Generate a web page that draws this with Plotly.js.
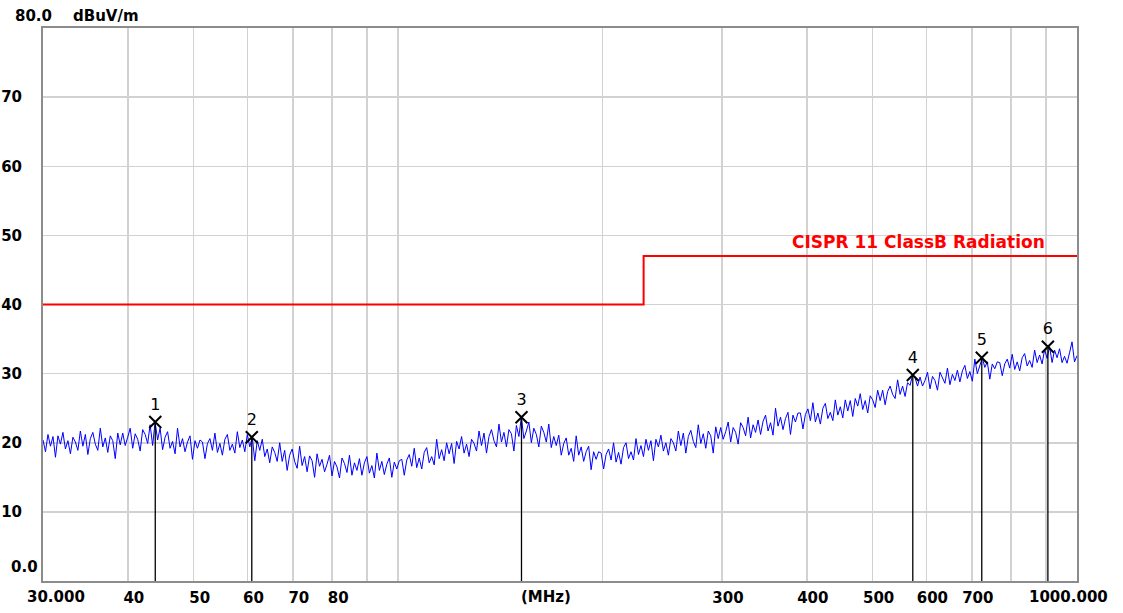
<!DOCTYPE html>
<html>
<head>
<meta charset="utf-8">
<script src="https://cdn.plot.ly/plotly-3.0.1.min.js"></script>
<style>html,body{margin:0;padding:0;background:#fff;}#chart{width:1123px;height:613px;}</style>
</head>
<body>
<div id="chart"></div>
<script>
// Sweep: 30 MHz to 1000 MHz, log-spaced sweep points
const sweepStartMHz = 30;
const sweepStopMHz = 1000;

const levels = [
  20.4, 18.7, 21.2, 19.5, 20.9, 17.9, 21.0, 19.8, 21.5, 19.1, 20.3, 18.4, 20.8, 20.1, 18.9, 21.7,
  19.5, 21.2, 18.3, 20.6, 21.5, 19.8, 18.9, 22.1, 19.4, 20.7, 18.6, 21.0, 20.3, 17.7, 21.4, 19.7,
  21.4, 19.6, 20.8, 22.1, 19.2, 21.3, 20.5, 18.8, 21.9, 21.2, 19.9, 22.6, 19.6, 23.0, 20.4, 22.1,
  19.0, 20.8, 21.6, 19.2, 20.2, 18.4, 22.1, 19.4, 20.6, 18.7, 20.1, 21.0, 17.6, 20.3, 19.2, 20.4,
  20.1, 17.7, 19.9, 20.6, 18.9, 21.4, 18.6, 19.9, 18.2, 20.5, 21.2, 18.9, 19.8, 18.5, 21.6, 19.3,
  20.4, 18.7, 21.2, 19.4, 20.8, 17.4, 20.3, 18.9, 20.5, 18.0, 19.1, 17.1, 19.4, 18.6, 17.3, 20.0,
  17.3, 18.9, 16.0, 18.2, 19.1, 17.3, 16.3, 19.5, 16.7, 18.0, 15.8, 18.1, 17.4, 15.0, 18.4, 16.6,
  17.6, 15.8, 16.9, 18.2, 15.2, 17.3, 16.5, 14.9, 17.8, 17.0, 15.7, 18.2, 15.3, 17.1, 16.0, 17.7,
  15.3, 17.1, 18.0, 15.6, 16.7, 14.9, 18.5, 16.0, 17.3, 15.4, 16.9, 17.8, 15.0, 17.2, 16.2, 17.4,
  17.6, 15.3, 17.5, 18.3, 16.6, 19.2, 16.4, 17.8, 16.2, 18.6, 19.3, 17.1, 18.0, 16.8, 20.5, 17.7,
  19.0, 17.4, 20.0, 18.4, 19.9, 17.0, 20.2, 19.1, 20.9, 18.5, 19.8, 18.0, 20.5, 19.9, 18.8, 21.7,
  19.6, 21.4, 18.5, 20.9, 21.9, 20.3, 19.4, 22.7, 20.1, 21.5, 19.4, 21.9, 21.3, 18.8, 22.5, 20.9,
  23.7, 20.6, 21.7, 23.0, 20.0, 22.1, 21.2, 19.4, 22.4, 21.5, 20.1, 22.7, 19.3, 20.9, 19.6, 21.1,
  18.2, 19.9, 20.7, 18.2, 19.2, 17.3, 21.0, 18.2, 19.4, 17.3, 18.7, 19.5, 16.1, 18.7, 17.6, 18.7,
  18.5, 16.2, 18.3, 19.1, 17.5, 20.0, 17.2, 18.6, 16.9, 19.3, 20.0, 17.7, 18.7, 17.5, 20.6, 18.3,
  19.6, 18.0, 20.5, 18.9, 20.3, 17.4, 20.5, 19.4, 21.1, 18.8, 20.0, 18.2, 20.6, 20.0, 18.8, 21.7,
  19.6, 21.4, 18.5, 20.9, 21.8, 20.2, 19.3, 22.6, 19.9, 21.3, 19.2, 21.7, 21.0, 18.5, 22.3, 20.6,
  22.2, 20.5, 21.6, 23.0, 20.1, 22.2, 21.5, 19.8, 22.9, 22.2, 21.0, 23.7, 20.7, 22.6, 21.5, 23.3,
  21.2, 23.1, 24.0, 21.7, 22.9, 21.1, 25.0, 22.4, 23.7, 21.9, 23.5, 24.4, 21.2, 24.0, 23.0, 24.3,
  24.3, 22.0, 24.1, 24.9, 23.2, 25.8, 23.0, 24.3, 22.7, 25.0, 25.7, 23.5, 24.4, 23.2, 26.2, 24.0,
  25.2, 23.6, 26.2, 24.6, 26.1, 23.8, 26.4, 25.3, 27.1, 24.8, 26.1, 24.3, 26.8, 26.2, 25.1, 27.6,
  26.1, 27.6, 25.5, 27.4, 28.2, 27.0, 26.4, 29.1, 27.0, 28.2, 26.7, 28.7, 28.3, 29.8, 29.4, 28.2,
  29.5, 28.2, 29.0, 30.2, 27.8, 29.6, 29.0, 27.6, 30.2, 29.5, 28.6, 30.8, 28.4, 29.9, 29.0, 30.5,
  28.8, 30.4, 31.2, 29.3, 30.3, 28.9, 32.1, 30.0, 31.0, 32.3, 30.9, 31.7, 29.2, 31.4, 30.7, 31.7,
  31.6, 29.7, 31.4, 32.1, 30.8, 32.8, 30.6, 31.7, 30.4, 32.3, 32.9, 31.1, 31.9, 30.9, 33.4, 31.6,
  32.7, 31.4, 33.5, 32.2, 33.9, 31.6, 33.4, 32.3, 33.6, 31.6, 32.5, 31.5, 33.0, 34.6, 31.7, 32.6
];

// Limit line: CISPR 11 Class B radiation
const limitFreqs = [30, 230, 230, 1000];
const limitLevels = [40, 40, 47, 47];
const limitName = 'CISPR 11 ClassB Radiation';

// Peak markers
const markerIds = ['1', '2', '3', '4', '5', '6'];
const markerFreqs = [43.9, 60.9, 152.0, 573.0, 724.0, 906.0];
const markerLevels = [23.0, 20.8, 23.7, 29.8, 32.3, 33.9];

// Axis ticks
const xGridVals = [40, 50, 60, 70, 80, 90, 100, 200, 300, 400, 500, 600, 700, 800, 900];
const xGridText = ['40', '50', '60', '70', '80', '', '', '', '300', '400', '500', '600', '700', '', ''];
const yTickVals = [10, 20, 30, 40, 50, 60, 70];
const yTickText = ['10', '20', '30', '40', '50', '60', '70'];

const N = levels.length;
const freqs = levels.map((_, i) => sweepStartMHz * Math.pow(sweepStopMHz / sweepStartMHz, i / (N - 1)));

// Marker drop lines
const dropX = [], dropY = [];
markerFreqs.forEach((f, i) => { dropX.push(f, f, null); dropY.push(markerLevels[i], 0, null); });

const tickFont = {family: 'DejaVu Sans', size: 15, color: '#000', weight: 'bold'};

const data = [
  {x: freqs, y: levels, type: 'scatter', mode: 'lines', line: {color: '#0000ff', width: 1}, hoverinfo: 'skip'},
  {x: limitFreqs, y: limitLevels, type: 'scatter', mode: 'lines', line: {color: '#ff0000', width: 2}, hoverinfo: 'skip'},
  {x: dropX, y: dropY, type: 'scatter', mode: 'lines', line: {color: '#000', width: 1.3}, hoverinfo: 'skip'},
  {x: markerFreqs, y: markerLevels, type: 'scatter', mode: 'markers+text', text: markerIds,
   textposition: 'top center', textfont: {family: 'DejaVu Sans', size: 16, color: '#000'},
   marker: {symbol: 'x-thin', size: 12, line: {color: '#000', width: 2}}, hoverinfo: 'skip'}
];

const layout = {
  width: 1123, height: 613,
  margin: {l: 43, r: 46, t: 28, b: 32},
  paper_bgcolor: '#fff', plot_bgcolor: '#fff',
  showlegend: false,
  xaxis: {
    type: 'log', range: [Math.log10(sweepStartMHz), Math.log10(sweepStopMHz)],
    tickmode: 'array', tickvals: xGridVals, ticktext: xGridText,
    showgrid: true, gridcolor: '#d2d2d2', gridwidth: 1.5,
    showline: true, linecolor: '#8c8c8c', linewidth: 2, mirror: true,
    ticks: '', tickfont: tickFont, ticklabelshift: 6, ticklabelstandoff: 2,
    zeroline: false, fixedrange: true
  },
  yaxis: {
    range: [0, 80], tickmode: 'array', tickvals: yTickVals, ticktext: yTickText,
    showgrid: true, gridcolor: '#d2d2d2', gridwidth: 1.5,
    showline: true, linecolor: '#8c8c8c', linewidth: 2, mirror: true,
    ticks: '', tickfont: tickFont, ticklabelstandoff: 16,
    zeroline: false, fixedrange: true
  },
  annotations: [
    {text: '80.0', xref: 'paper', yref: 'paper', x: -0.029, y: 1.0, xanchor: 'left', yanchor: 'middle', yshift: 12, showarrow: false, font: tickFont},
    {text: 'dBuV/m', xref: 'paper', yref: 'paper', x: 0.027, y: 1.0, xanchor: 'left', yanchor: 'middle', yshift: 12, showarrow: false, font: tickFont},
    {text: '0.0', xref: 'paper', yref: 'y', x: 0, y: 0, xanchor: 'right', yanchor: 'middle', xshift: -3, yshift: 14, showarrow: false, font: tickFont},
    {text: '30.000', xref: 'x', yref: 'paper', x: Math.log10(30), y: 0, xanchor: 'center', yanchor: 'top', xshift: 13, yshift: -5, showarrow: false, font: tickFont},
    {text: '(MHz)', xref: 'x', yref: 'paper', x: Math.log10(165), y: 0, xanchor: 'center', yanchor: 'top', yshift: -5, showarrow: false, font: tickFont},
    {text: '1000.000', xref: 'x', yref: 'paper', x: Math.log10(1000), y: 0, xanchor: 'center', yanchor: 'top', xshift: -9, yshift: -5, showarrow: false, font: tickFont},
    {text: limitName, xref: 'x', yref: 'y', x: Math.log10(1000), y: 47, xanchor: 'right', yanchor: 'bottom', xshift: -30, yshift: 2, showarrow: false,
     font: {family: 'DejaVu Sans', size: 17, color: '#ff0000', weight: 'bold'}}
  ]
};

Plotly.newPlot('chart', data, layout, {displayModeBar: false, staticPlot: true});
</script>
</body>
</html>
